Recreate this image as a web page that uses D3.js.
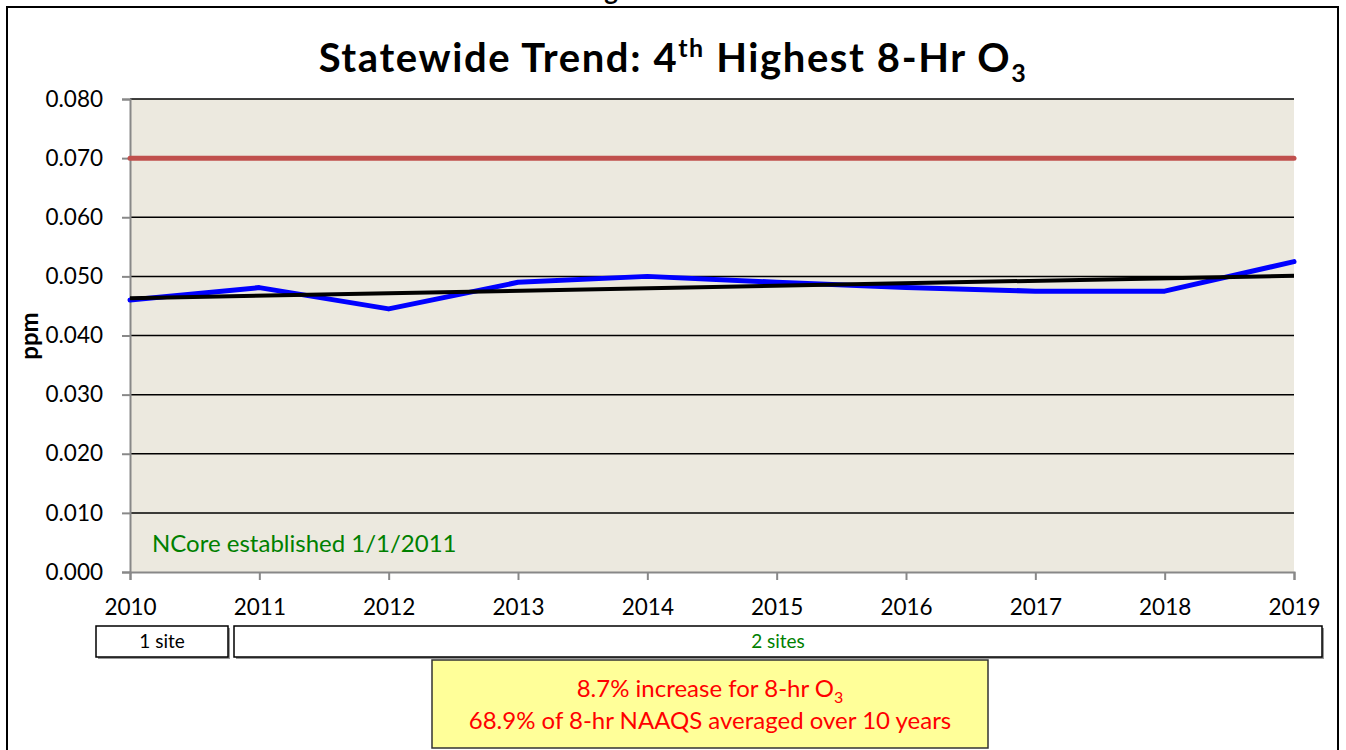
<!DOCTYPE html>
<html>
<head>
<meta charset="utf-8">
<script src="https://cdn.jsdelivr.net/npm/d3@7"></script>
<style>
  body { margin: 0; background: #fff; }
  svg { display: block; font-family: Lato, "Open Sans", sans-serif; }
</style>
</head>
<body>
<div id="chart"></div>
<script>
// Data
const years = [2010, 2011, 2012, 2013, 2014, 2015, 2016, 2017, 2018, 2019];
const o3Values = [0.0460, 0.0481, 0.0445, 0.0490, 0.0500, 0.0490, 0.0481, 0.0475, 0.0475, 0.0525];
const trendYears = [2010, 2019];
const trendValues = [0.0463, 0.0501];
const naaqsValue = 0.070;
const yTicks = [0, 0.01, 0.02, 0.03, 0.04, 0.05, 0.06, 0.07, 0.08];
const siteLabels = ["1 site", "2 sites"];
const noteLines = ["8.7% increase for 8-hr O", "68.9% of 8-hr NAAQS averaged over 10 years"];

// Set dimensions
const W = 1346, H = 750;
const margin = { top: 99, left: 130, right: 52, bottom: 178 };
const width = W - margin.left - margin.right;
const height = H - margin.top - margin.bottom;

const svg = d3.select("#chart").append("svg")
  .attr("width", W)
  .attr("height", H);

// Outer frame
svg.append("rect")
  .attr("x", 7).attr("y", 7)
  .attr("width", 1331).attr("height", 760)
  .style("fill", "#fff")
  .style("stroke", "#000")
  .style("stroke-width", 2);

// caption above the frame, cut off by the page edge as in the original
svg.append("text")
  .attr("x", 630).attr("y", 0)
  .attr("text-anchor", "middle")
  .style("font-weight", "bold")
  .style("font-size", "26px")
  .text("Figure 5");

// Title
const title = svg.append("text")
  .attr("x", 673).attr("y", 72)
  .attr("text-anchor", "middle")
  .style("font-weight", "bold")
  .style("font-size", "40px")
  .style("letter-spacing", "1.6px");
title.append("tspan").text("Statewide Trend: 4");
title.append("tspan").attr("dy", -15).style("font-size", "25px").text("th");
title.append("tspan").attr("dy", 15).text(" Highest 8-Hr O");
title.append("tspan").attr("dy", 10).style("font-size", "25px").text("3");

// Scales
const x = d3.scaleLinear().domain([2010, 2019]).range([0, width]);
const y = d3.scaleLinear().domain([0, 0.08]).range([height, 0]);

const g = svg.append("g")
  .attr("transform", `translate(${margin.left}, ${margin.top})`);

// Plot background
g.append("rect")
  .attr("width", width)
  .attr("height", height)
  .style("fill", "#ECE9DF");

// Gridlines
g.selectAll(".grid")
  .data(yTicks.slice(1))
  .join("line")
  .attr("x1", 0).attr("x2", width)
  .attr("y1", d => y(d)).attr("y2", d => y(d))
  .style("stroke", "#000")
  .style("stroke-width", 1.5);

// Y axis
const yAxis = g.append("g")
  .call(d3.axisLeft(y).tickValues(yTicks).tickFormat(d3.format(".3f")).tickSize(8).tickPadding(19));
yAxis.select(".domain").style("stroke", "#888").style("stroke-width", 2);
yAxis.selectAll(".tick line").style("stroke", "#888").style("stroke-width", 2);
yAxis.selectAll("text").style("font-size", "22.5px").style("fill", "#000").style("font-family", "Lato, sans-serif");

// X axis
const xAxis = g.append("g")
  .attr("transform", `translate(0, ${height})`)
  .call(d3.axisBottom(x).tickValues(years).tickFormat(d3.format("d")).tickSize(8).tickPadding(19));
xAxis.select(".domain").style("stroke", "#888").style("stroke-width", 2);
xAxis.selectAll(".tick line").style("stroke", "#888").style("stroke-width", 2);
xAxis.selectAll("text").style("font-size", "22.5px").style("fill", "#000").style("font-family", "Lato, sans-serif");

// ppm label
svg.append("text")
  .attr("transform", "translate(38, 336) rotate(-90)")
  .attr("text-anchor", "middle")
  .style("font-weight", "bold")
  .style("font-size", "24px")
  .text("ppm");

// NAAQS line
g.append("line")
  .attr("x1", x(2010)).attr("x2", x(2019))
  .attr("y1", y(naaqsValue)).attr("y2", y(naaqsValue))
  .style("stroke", "#C0504D")
  .style("stroke-width", 5)
  .style("stroke-linecap", "round");

// Data line
const line = d3.line().x((d, i) => x(years[i])).y(d => y(d));
g.append("path")
  .datum(o3Values)
  .attr("d", line)
  .style("fill", "none")
  .style("stroke", "#0000FF")
  .style("stroke-width", 5)
  .style("stroke-linejoin", "round")
  .style("stroke-linecap", "round");

// Trend line
g.append("path")
  .datum(trendValues)
  .attr("d", d3.line().x((d, i) => x(trendYears[i])).y(d => y(d)))
  .style("fill", "none")
  .style("stroke", "#000")
  .style("stroke-width", 4);

// NCore note
g.append("text")
  .attr("x", 22).attr("y", y(0) - 20)
  .style("fill", "#008000")
  .style("font-size", "24px")
  .text("NCore established 1/1/2011");

// Site boxes
const boxes = [
  { label: siteLabels[0], x0: 96, x1: 228, color: "#000" },
  { label: siteLabels[1], x0: 234, x1: 1322, color: "#008000" }
];
boxes.forEach(b => {
  svg.append("rect")
    .attr("x", b.x0 + 2).attr("y", 628)
    .attr("width", b.x1 - b.x0).attr("height", 31)
    .style("fill", "#999");
  svg.append("rect")
    .attr("x", b.x0).attr("y", 626)
    .attr("width", b.x1 - b.x0).attr("height", 31)
    .style("fill", "#fff")
    .style("stroke", "#000")
    .style("stroke-width", 1.5);
  svg.append("text")
    .attr("x", (b.x0 + b.x1) / 2).attr("y", 648)
    .attr("text-anchor", "middle")
    .style("font-size", "19px")
    .style("fill", b.color)
    .text(b.label);
});

// Summary box
svg.append("rect")
  .attr("x", 432).attr("y", 660)
  .attr("width", 556).attr("height", 88)
  .style("fill", "#FFFF99")
  .style("stroke", "#333")
  .style("stroke-width", 1.5);
const n1 = svg.append("text")
  .attr("x", 710).attr("y", 697)
  .attr("text-anchor", "middle")
  .style("font-size", "24px")
  .style("fill", "#FF0000");
n1.append("tspan").text(noteLines[0]);
n1.append("tspan").attr("dy", 6).style("font-size", "16px").text("3");
svg.append("text")
  .attr("x", 710).attr("y", 729)
  .attr("text-anchor", "middle")
  .style("font-size", "24px")
  .style("fill", "#FF0000")
  .text(noteLines[1]);
</script>
</body>
</html>
